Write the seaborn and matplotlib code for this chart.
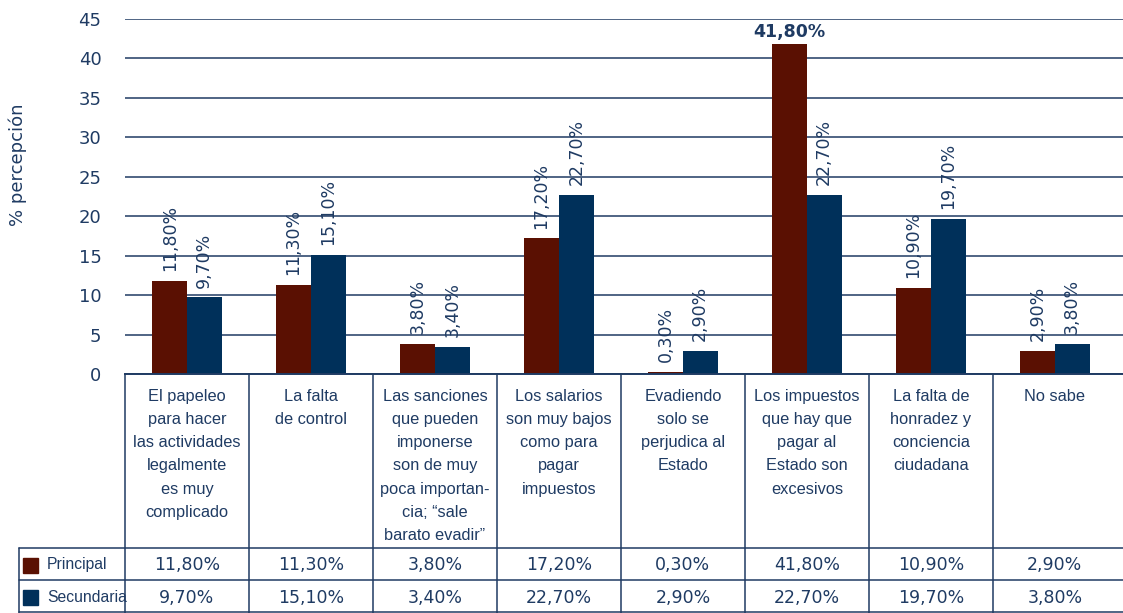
import numpy as np
import pandas as pd
import matplotlib
matplotlib.use("Agg")
import matplotlib.pyplot as plt
import matplotlib.transforms as mtransforms
from matplotlib.patches import Rectangle
from matplotlib.lines import Line2D
import seaborn as sns

# Data
categorias = [
    "El papeleo\npara hacer\nlas actividades\nlegalmente\nes muy\ncomplicado",
    "La falta\nde control",
    "Las sanciones\nque pueden\nimponerse\nson de muy\npoca importan-\ncia; \u201csale\nbarato evadir\u201d",
    "Los salarios\nson muy bajos\ncomo para\npagar\nimpuestos",
    "Evadiendo\nsolo se\nperjudica al\nEstado",
    "Los impuestos\nque hay que\npagar al\nEstado son\nexcesivos",
    "La falta de\nhonradez y\nconciencia\nciudadana",
    "No sabe",
]
principal = [11.8, 11.3, 3.8, 17.2, 0.3, 41.8, 10.9, 2.9]
secundaria = [9.7, 15.1, 3.4, 22.7, 2.9, 22.7, 19.7, 3.8]
series = ["Principal", "Secundaria"]
yticks = [0, 5, 10, 15, 20, 25, 30, 35, 40, 45]

navy = "#1f3b63"
colores = ["#5a1002", "#00305a"]

df = pd.DataFrame({
    "cat": list(range(len(categorias))) * 2,
    "serie": [series[0]] * len(principal) + [series[1]] * len(secundaria),
    "valor": principal + secundaria,
})

sns.set_style("white")
plt.rcParams["font.family"] = ["DejaVu Sans"]

W, H = 1123, 613
fig = plt.figure(figsize=(W / 100, H / 100), dpi=100)

def fx(px):
    return px / W

def fy(py):
    return 1 - py / H

ax = fig.add_axes([fx(125), fy(374), fx(1123) - fx(125), fy(19) - fy(374)])

sns.barplot(data=df, x="cat", y="valor", hue="serie", palette=colores,
            width=0.56, saturation=1, ax=ax, legend=False, order=list(range(8)),
            linewidth=0, edgecolor="none")

ax.set_xlim(-0.5, 7.55)
ax.set_ylim(0, 45)
ax.set_yticks(yticks)
ax.set_yticklabels([str(t) for t in yticks], fontsize=13, color=navy)
ax.tick_params(axis="y", length=0, pad=17)
ax.tick_params(axis="x", length=0, labelbottom=False)
ax.set_xlabel("")
ax.set_ylabel("")
ax.yaxis.grid(True, color=navy, lw=1.1)
ax.set_axisbelow(True)
for s in ["left", "right", "top"]:
    ax.spines[s].set_visible(False)
ax.spines["bottom"].set_color(navy)
ax.spines["bottom"].set_linewidth(1.4)

fig.text(fx(18), fy(165), "% percepción", rotation=90, ha="center", va="center",
         fontsize=13, color=navy)

# etiquetas sobre las barras
for cont, vals in zip(ax.containers, [principal, secundaria]):
    for patch, v in zip(cont.patches, vals):
        xc = patch.get_x() + patch.get_width() / 2
        txt = f"{v:.2f}".replace(".", ",") + "%"
        if v == max(principal):
            ax.annotate(txt, xy=(xc, v), xytext=(0, 2), textcoords="offset points",
                        ha="center", va="bottom", fontsize=12.5, color=navy,
                        fontweight="semibold", annotation_clip=False)
        else:
            ax.annotate(txt, xy=(xc, v), xytext=(0, 7), textcoords="offset points",
                        ha="center", va="bottom", rotation=90, fontsize=12.5,
                        color=navy, annotation_clip=False)

# tabla inferior
tr = mtransforms.blended_transform_factory(ax.transData, fig.transFigure)
bordes = [i - 0.5 for i in range(len(categorias))]
for b in bordes:
    fig.add_artist(Line2D([b, b], [fy(374), fy(613)], transform=tr, color=navy, lw=1.1))
for py in [548, 580, 612]:
    fig.add_artist(Line2D([fx(19), 1], [fy(py), fy(py)], transform=fig.transFigure,
                          color=navy, lw=1.1))
fig.add_artist(Line2D([fx(19), fx(19)], [fy(548), fy(613)], transform=fig.transFigure,
                      color=navy, lw=1.1))

for i, cat in enumerate(categorias):
    fig.text(i, fy(389), cat, transform=tr, ha="center", va="top", fontsize=11.8,
             family=["Liberation Sans", "DejaVu Sans"], color=navy, linespacing=1.68)
    fig.text(i, fy(565), f"{principal[i]:.2f}".replace(".", ",") + "%", transform=tr,
             ha="center", va="center", fontsize=12.5, color=navy)
    fig.text(i, fy(598), f"{secundaria[i]:.2f}".replace(".", ",") + "%", transform=tr,
             ha="center", va="center", fontsize=12.5, color=navy)

for nombre, col, py in zip(series, colores, [565, 597]):
    fig.add_artist(Rectangle((fx(23), fy(py + 8)), fx(15), fy(0) - fy(15),
                             transform=fig.transFigure, color=col))
    fig.text(fx(47), fy(py), nombre, ha="left", va="center", fontsize=11.3,
             family=["Liberation Sans", "DejaVu Sans"], color=navy)

fig.savefig("out.png", dpi=100)
